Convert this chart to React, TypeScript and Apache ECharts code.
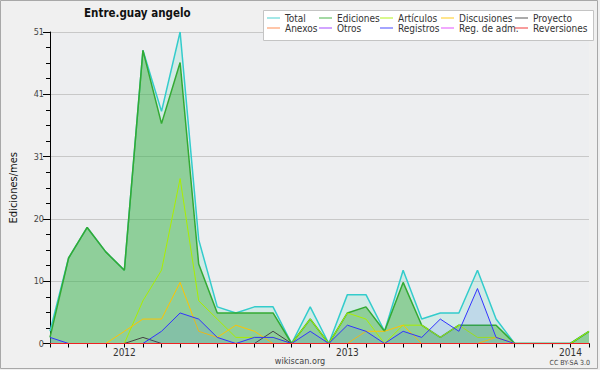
import React, { useEffect, useRef } from "react";
import * as echarts from "echarts";

const months: string[] = [
  "2011-09", "2011-10", "2011-11", "2011-12",
  "2012-01", "2012-02", "2012-03", "2012-04", "2012-05", "2012-06",
  "2012-07", "2012-08", "2012-09", "2012-10", "2012-11", "2012-12",
  "2013-01", "2013-02", "2013-03", "2013-04", "2013-05", "2013-06",
  "2013-07", "2013-08", "2013-09", "2013-10", "2013-11", "2013-12",
  "2014-01", "2014-02",
];

const total: number[] = [2, 14, 19, 15, 12, 48, 38, 51, 17, 6, 5, 6, 6, 0, 6, 0, 8, 8, 2, 12, 4, 5, 5, 12, 4, 0, 0, 0, 0, 2];
const ediciones: number[] = [1, 14, 19, 15, 12, 48, 36, 46, 13, 5, 5, 5, 5, 0, 4, 0, 5, 6, 2, 10, 3, 1, 3, 3, 3, 0, 0, 0, 0, 2];
const articulos: number[] = [0, 0, 0, 0, 0, 7, 12, 27, 7, 4, 1, 1, 1, 0, 4, 0, 5, 4, 0, 3, 3, 1, 3, 1, 1, 0, 0, 0, 0, 2];
const discusiones: number[] = [0, 0, 0, 0, 2, 4, 4, 10, 2, 1, 3, 2, 0, 0, 0, 0, 0, 2, 2, 3, 0, 0, 0, 0, 1, 0, 0, 0, 0, 0];
const proyecto: number[] = [0, 0, 0, 0, 0, 1, 0, 0, 0, 0, 0, 0, 2, 0, 0, 0, 0, 0, 0, 0, 0, 0, 0, 0, 0, 0, 0, 0, 0, 0];
const anexos: number[] = [0, 0, 0, 0, 0, 0, 0, 0, 0, 0, 0, 0, 0, 0, 0, 0, 0, 0, 0, 0, 0, 0, 0, 0, 0, 0, 0, 0, 0, 0];
const otros: number[] = [0, 0, 0, 0, 0, 0, 0, 0, 0, 0, 0, 0, 0, 0, 0, 0, 0, 0, 0, 0, 0, 0, 0, 0, 0, 0, 0, 0, 0, 0];
const registros: number[] = [1, 0, 0, 0, 0, 0, 2, 5, 4, 1, 0, 1, 1, 0, 2, 0, 3, 2, 0, 2, 1, 4, 2, 9, 1, 0, 0, 0, 0, 0];
const regAdm: number[] = [0, 0, 0, 0, 0, 0, 0, 0, 0, 0, 0, 0, 0, 0, 0, 0, 0, 0, 0, 0, 0, 0, 0, 0, 0, 0, 0, 0, 0, 0];
const reversiones: number[] = [0, 0, 0, 0, 0, 0, 0, 0, 0, 0, 0, 0, 0, 0, 0, 0, 0, 0, 0, 0, 0, 0, 0, 0, 0, 0, 0, 0, 0, 0];

const seriesNames: string[] = ["Total", "Ediciones", "Artículos", "Discusiones", "Proyecto", "Anexos", "Otros", "Registros", "Reg. de adm.", "Reversiones"];
const seriesData: number[][] = [total, ediciones, articulos, discusiones, proyecto, anexos, otros, registros, regAdm, reversiones];
const seriesColors: string[] = ["#33cccc", "#33aa33", "#aaee00", "#ffc400", "#444444", "#ff8040", "#9933ff", "#3333ff", "#e040fb", "#ee2222"];
const seriesAreas: (string | null)[] = ["rgba(90,215,190,0.18)", "rgba(51,170,51,0.42)", null, null, null, null, null, "rgba(60,100,255,0.12)", null, null];
const seriesWidths: number[] = [1.5, 1.5, 1, 1, 1, 1, 1, 1, 1, 1];

const yTitle = "Ediciones/mes";
const chartTitle = "Entre.guay angelo";

// legend layout: [left of icon, top]
const legendPos: [number, number][] = [
  [267, 13], [319, 13], [380, 13], [441, 13], [515, 13],
  [267, 23], [319, 23], [380, 23], [441, 23], [515, 23],
];

const FONT = "DejaVu Sans Condensed";

export default function App() {
  const ref = useRef<HTMLDivElement>(null);
  useEffect(() => {
    if (!ref.current) return;
    const chart = echarts.init(ref.current, null, { renderer: "svg" });
    const series = seriesNames.map((name, i) => {
      const s: any = {
        name,
        type: "line",
        data: seriesData[i],
        symbol: "none",
        color: seriesColors[i],
        lineStyle: { width: seriesWidths[i], color: seriesColors[i] },
        z: 2 + i,
      };
      if (seriesAreas[i]) s.areaStyle = { color: seriesAreas[i], opacity: 1 };
      return s;
    });
    const legends = seriesNames.map((name, i) => ({
      data: [name],
      left: legendPos[i][0],
      top: legendPos[i][1],
      padding: 0,
      icon: "rect",
      itemWidth: 13,
      itemHeight: 1.5,
      itemStyle: { opacity: 0.6 },
      selectedMode: false,
      z: 20,
      textStyle: { fontSize: 10, fontFamily: FONT, color: "#333" },
    }));
    chart.setOption({
      animation: false,
      backgroundColor: "#f0f0f0",
      title: {
        text: chartTitle,
        left: 84,
        top: 7,
        padding: 0,
        textStyle: { fontSize: 11.5, fontWeight: "bold", fontFamily: FONT, color: "#111" },
      },
      legend: legends,
      grid: {
        left: 46,
        top: 32,
        width: 543,
        height: 311.5,
        show: true,
        backgroundColor: "#edeef0",
        borderWidth: 0,
      },
      xAxis: {
        type: "category",
        data: months,
        boundaryGap: false,
        z: 10,
        axisLine: { lineStyle: { color: "#000", width: 1 } },
        axisTick: { show: true, length: 4, interval: 0, lineStyle: { color: "#000" } },
        axisLabel: {
          interval: (idx: number, v: string) => v.endsWith("-01"),
          formatter: (v: string) => v.slice(0, 4),
          fontSize: 10,
          fontFamily: FONT,
          color: "#333",
          margin: 4,
        },
        splitLine: { show: false },
      },
      yAxis: {
        type: "value",
        min: 0,
        max: 51,
        interval: 10.2,
        name: yTitle,
        nameLocation: "middle",
        nameRotate: 90,
        nameGap: 31,
        nameTextStyle: { fontSize: 11, fontFamily: FONT, color: "#111" },
        axisLine: { show: true, lineStyle: { color: "#000", width: 1 } },
        axisTick: { show: true, length: 7, lineStyle: { color: "#000" } },
        minorTick: { show: true, splitNumber: 4, length: 4, lineStyle: { color: "#000" } },
        axisLabel: {
          formatter: (v: number) => String(Math.round(v)),
          fontSize: 9,
          fontFamily: FONT,
          color: "#444",
          margin: 6,
        },
        splitLine: { show: true, lineStyle: { color: "#c8c8c8", width: 1 } },
      },
      graphic: [
        {
          type: "rect",
          z: 15,
          shape: { x: 263.5, y: 10.5, width: 330, height: 30 },
          style: { fill: "#ffffff", stroke: "#c4c4c4", lineWidth: 1 },
        },
        {
          type: "rect",
          z: 15,
          shape: { x: 0.5, y: 0.5, width: 597, height: 368 },
          style: { fill: "none", stroke: "#a8a8a8", lineWidth: 1 },
        },
        {
          type: "text",
          z: 15,
          x: 300,
          y: 361,
          style: { text: "wikiscan.org", fontSize: 9, fontFamily: FONT, fill: "#444", align: "center", verticalAlign: "middle" },
        },
        {
          type: "text",
          z: 15,
          x: 590,
          y: 363,
          style: { text: "CC BY-SA 3.0", fontSize: 7, fontFamily: FONT, fill: "#444", align: "right", verticalAlign: "middle" },
        },
      ],
      series,
    });
    return () => chart.dispose();
  }, []);
  return <div ref={ref} style={{ width: 600, height: 370, position: "absolute", left: 0, top: 0 }} />;
}
